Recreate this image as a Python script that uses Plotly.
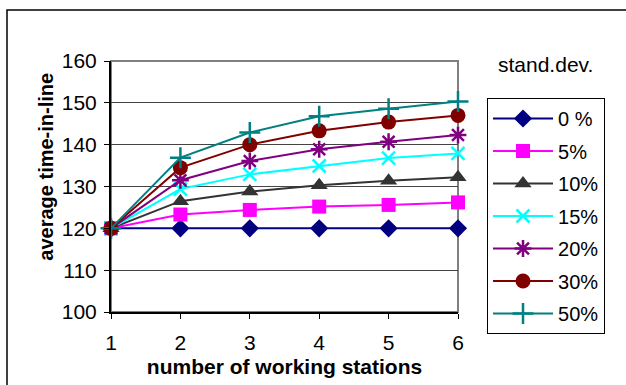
import plotly.graph_objects as go

stations = [1, 2, 3, 4, 5, 6]
series_names = ["0 %", "5%", "10%", "15%", "20%", "30%", "50%"]
sd0 = [120, 120, 120, 120, 120, 120]
sd5 = [120, 123.3, 124.4, 125.2, 125.6, 126.2]
sd10 = [120, 126.5, 128.8, 130.3, 131.4, 132.2]
sd15 = [120, 129.4, 132.9, 134.9, 136.8, 137.9]
sd20 = [120, 131.5, 136.1, 138.9, 140.7, 142.3]
sd30 = [120, 134.5, 140.0, 143.3, 145.4, 147.0]
sd50 = [120, 136.9, 142.9, 146.8, 148.6, 150.3]
y_ticks = [100, 110, 120, 130, 140, 150, 160]

values = [sd0, sd5, sd10, sd15, sd20, sd30, sd50]
colors = ["#000080", "#FF00FF", "#333333", "#00FFFF", "#800080", "#800000", "#008080"]
symbols = ["diamond", "square", "triangle-up", "x-thin", "asterisk", "circle", "cross-thin"]
sizes = [14, 14, 15, 13, 14, 15, 15]

FONT = "Arial, 'Liberation Sans', sans-serif"

fig = go.Figure()
for name, vals, c, s, sz in zip(series_names, values, colors, symbols, sizes):
    thin = s.endswith("thin") or s == "asterisk"
    fig.add_trace(go.Scatter(
        x=stations, y=vals, name=name, mode="lines+markers",
        legendgroup=name,
        line=dict(color=c, width=2),
        marker=dict(symbol=s, size=sz, color=c,
                    line=dict(color=c, width=2.5 if thin else 0)),
        cliponaxis=False,
    ))

fig.update_layout(
    width=626, height=385,
    margin=dict(l=111, r=168, t=61, b=73, autoexpand=False),
    paper_bgcolor="white", plot_bgcolor="white",
    font=dict(family=FONT, size=20, color="black"),
    showlegend=True,
    legend=dict(
        x=1.0836, y=0.8526, xanchor="left", yanchor="top",
        bgcolor="white", bordercolor="black", borderwidth=1,
        font=dict(size=20), tracegroupgap=3.5, traceorder="grouped",
        itemwidth=60,
    ),
    xaxis=dict(
        range=[1, 6], tickvals=stations, ticks="outside", ticklen=5,
        tickcolor="black", showline=True, linecolor="black", linewidth=2,
        showgrid=False, zeroline=False, tickfont=dict(size=21), automargin=False,
        ticklabelstandoff=6,
        title=dict(text="<b>number of working stations</b>", font=dict(size=21), standoff=6),
    ),
    yaxis=dict(
        range=[100, 160], tickvals=y_ticks, ticks="outside", ticklen=5,
        tickcolor="black", showline=True, linecolor="black", linewidth=2,
        showgrid=True, gridcolor="#444444", gridwidth=1, zeroline=False,
        tickfont=dict(size=21), ticklabelstandoff=3, automargin=False,
    ),
    shapes=[
        dict(type="rect", xref="paper", yref="paper", x0=0, x1=1, y0=0, y1=1,
             line=dict(color="#808080", width=2), layer="below"),
        dict(type="rect", xref="paper", yref="paper", x0=-0.2997, x1=1.6, y0=-0.4, y1=1.2032,
             line=dict(color="black", width=1.5), layer="below"),
    ],
    annotations=[
        dict(text="stand.dev.", xref="paper", yref="paper", x=1.1095, y=0.988,
             xanchor="left", yanchor="middle", showarrow=False, font=dict(size=21)),
        dict(text="<b>average time-in-line</b>", xref="paper", yref="paper",
             x=-0.1873, y=0.579, xanchor="center", yanchor="middle", textangle=-90,
             showarrow=False, font=dict(size=20)),
    ],
)

fig.write_html("out.html", config={"displayModeBar": False},
               post_script="document.body.style.margin='0';document.body.style.overflow='hidden';")
